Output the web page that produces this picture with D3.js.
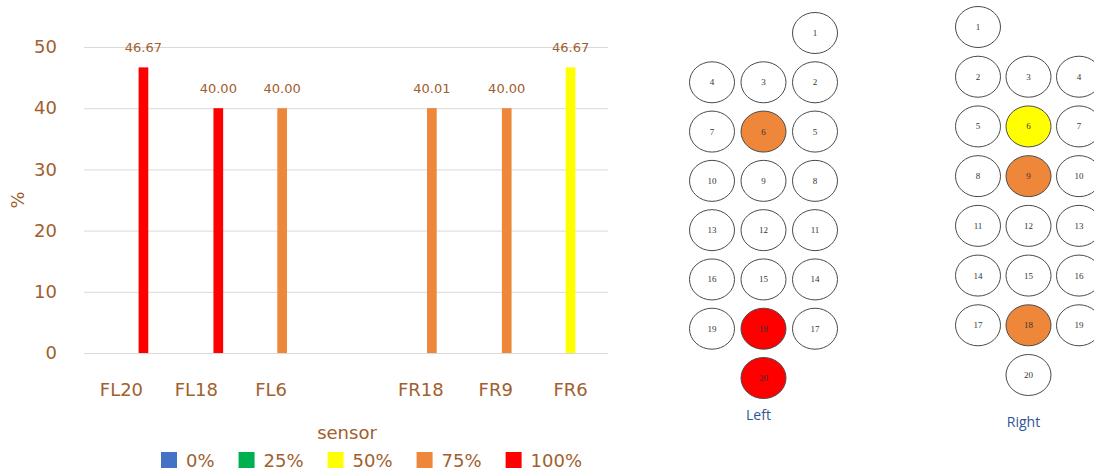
<!DOCTYPE html>
<html><head><meta charset="utf-8">
<script src="https://cdn.jsdelivr.net/npm/d3@7"></script>
<style>
html,body{margin:0;padding:0;background:#fff;}
svg{display:block;}
</style></head>
<body>
<svg id="c" width="1094" height="471"></svg>
<script>
// ---- data ----
const categories = ["FL20", "FL18", "FL6", "", "FR18", "FR9", "FR6"];
const values = [46.67, 40.00, 40.00, null, 40.01, 40.00, 46.67];
const valueLabels = ["46.67", "40.00", "40.00", "", "40.01", "40.00", "46.67"];
const valueClass = ["100%", "100%", "75%", null, "75%", "75%", "50%"];
const seriesNames = ["0%", "25%", "50%", "75%", "100%"];
const seriesColors = ["#4472C4", "#00B050", "#FFFF00", "#EF873A", "#FF0000"];
const yTicks = [0, 10, 20, 30, 40, 50];

const leftLayout = [[null,null,1],[4,3,2],[7,6,5],[10,9,8],[13,12,11],[16,15,14],[19,18,17],[null,20,null]];
const rightLayout = [[1,null,null],[2,3,4],[5,6,7],[8,9,10],[11,12,13],[14,15,16],[17,18,19],[null,20,null]];
const leftActive = {6: "75%", 18: "100%", 20: "100%"};
const rightActive = {6: "50%", 9: "75%", 18: "75%"};

// ---- chart ----
const svg = d3.select("#c");
const brown = "#A0602F";
const font = "'DejaVu Sans', Verdana, sans-serif";
const color = d3.scaleOrdinal().domain(seriesNames).range(seriesColors);

const catKeys = categories.map((c, i) => i);
const x0 = d3.scaleBand().domain(catKeys).range([84, 608]).padding(0);
const x1 = d3.scaleBand().domain(seriesNames).range([0, x0.bandwidth()]).paddingInner(0.12).paddingOuter(0.96);
const y = d3.scaleLinear().domain([0, 50]).range([353, 47]);

// y axis + grid
const yAxis = svg.append("g").attr("transform", "translate(84,0)")
  .call(d3.axisLeft(y).tickValues(yTicks).tickSize(-524).tickPadding(27));
yAxis.select(".domain").remove();
yAxis.selectAll(".tick line").attr("stroke", "#d9d9d9").attr("stroke-width", 1);
yAxis.selectAll(".tick text").attr("fill", brown).style("font-family", font).style("font-size", "18px");

// x axis labels
const xAxis = svg.append("g").attr("transform", "translate(0,353)")
  .call(d3.axisBottom(x0).tickFormat(i => categories[i]).tickSize(0).tickPadding(30));
xAxis.select(".domain").remove();
xAxis.selectAll(".tick text").attr("fill", brown).style("font-family", font).style("font-size", "18px");

// bars
const barData = catKeys.filter(i => values[i] != null);
svg.append("g").selectAll("rect").data(barData).join("rect")
  .attr("x", i => x0(i) + x1(valueClass[i]))
  .attr("width", x1.bandwidth())
  .attr("y", i => y(values[i]))
  .attr("height", i => y(0) - y(values[i]))
  .attr("fill", i => color(valueClass[i]));

// value labels
svg.append("g").selectAll("text").data(barData).join("text")
  .attr("x", i => x0(i) + x1(valueClass[i]) + x1.bandwidth() / 2)
  .attr("y", i => y(values[i]) - 15)
  .attr("text-anchor", "middle")
  .attr("fill", brown)
  .style("font-family", font).style("font-size", "13px")
  .text(i => valueLabels[i]);

// y title
svg.append("text").attr("transform", "translate(24,200) rotate(-90)")
  .attr("text-anchor", "middle").attr("fill", brown)
  .style("font-family", font).style("font-size", "18px").text("%");

// legend title
svg.append("text").attr("x", 347).attr("y", 439).attr("text-anchor", "middle")
  .attr("fill", brown).style("font-family", font).style("font-size", "18px").text("sensor");

// legend items (flow layout)
const lg = svg.append("g");
let lx = 161;
seriesNames.forEach((s, k) => {
  lg.append("rect").attr("x", lx).attr("y", 452).attr("width", 16).attr("height", 16).attr("fill", color(s));
  const t = lg.append("text").attr("x", lx + 25).attr("y", 467).attr("fill", brown)
    .style("font-family", font).style("font-size", "18px").text(s);
  lx = lx + 25 + t.node().getComputedTextLength() + 24;
});

// ---- sensor maps ----
function drawMap(layout, active, xRange, yRange, label, labelY) {
  const cx = d3.scalePoint().domain([0, 1, 2]).range(xRange);
  const cy = d3.scalePoint().domain(d3.range(layout.length)).range(yRange);
  const cells = [];
  layout.forEach((row, r) => row.forEach((id, c) => { if (id != null) cells.push({id, r, c}); }));
  const g = svg.append("g");
  g.selectAll("ellipse").data(cells).join("ellipse")
    .attr("cx", d => cx(d.c)).attr("cy", d => cy(d.r))
    .attr("rx", 22.5).attr("ry", 20.5)
    .attr("fill", d => active[d.id] ? color(active[d.id]) : "#fff")
    .attr("stroke", "#4a4a4a").attr("stroke-width", 1);
  g.selectAll("text.n").data(cells).join("text").attr("class", "n")
    .attr("x", d => cx(d.c)).attr("y", d => cy(d.r) + 3)
    .attr("text-anchor", "middle").attr("fill", "#333")
    .style("font-family", "'Liberation Serif', serif").style("font-size", "9px")
    .text(d => d.id);
  g.append("text").attr("x", (xRange[0] + xRange[1]) / 2 - 5).attr("y", labelY)
    .attr("text-anchor", "middle").attr("fill", "#2F5597")
    .style("font-family", "'Open Sans', sans-serif").style("font-size", "14px").text(label);
}
drawMap(leftLayout, leftActive, [712, 815], [33, 378], "Left", 420);
drawMap(rightLayout, rightActive, [978, 1079], [27, 375], "Right", 427);
</script>
</body></html>
